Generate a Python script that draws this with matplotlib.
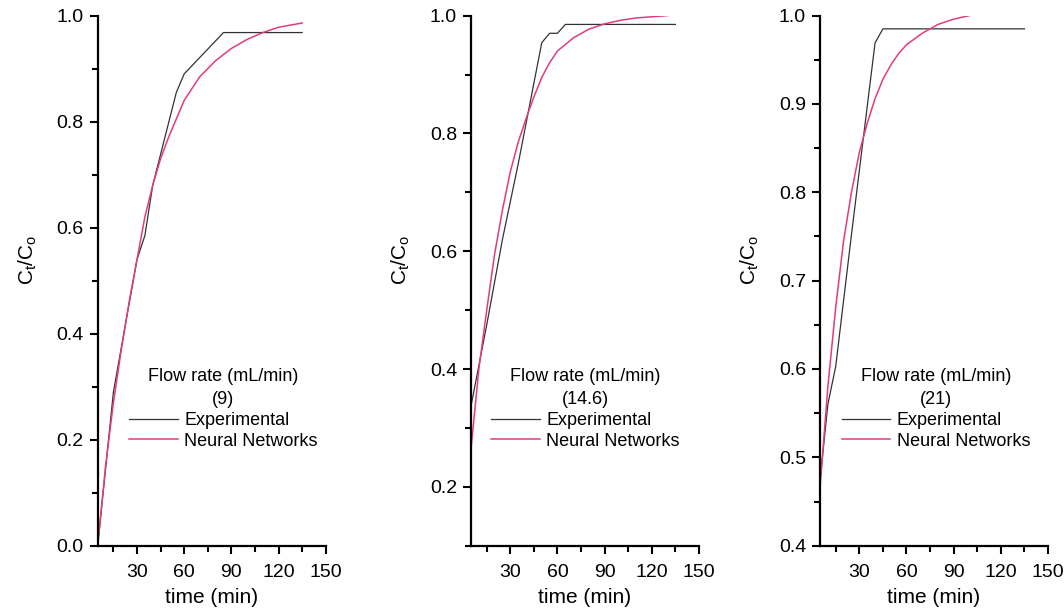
import matplotlib
matplotlib.use("Agg")
import matplotlib.pyplot as plt
from matplotlib.ticker import MultipleLocator, FormatStrFormatter

plt.rcParams['font.family'] = ['Liberation Sans', 'DejaVu Sans']
plt.rcParams['mathtext.default'] = 'regular'

# Flow rate 9 mL/min
t_exp_9 = [5, 15, 30, 35, 40, 55, 60, 85, 135]
c_exp_9 = [0.0, 0.29, 0.54, 0.585, 0.68, 0.855, 0.89, 0.968, 0.968]
t_nn_9 = [5, 10, 15, 20, 25, 30, 35, 40, 45, 50, 60, 70, 80, 90, 100, 110, 120, 135]
c_nn_9 = [0.0, 0.15, 0.27, 0.37, 0.46, 0.54, 0.62, 0.68, 0.73, 0.77, 0.84, 0.885,
          0.915, 0.938, 0.955, 0.968, 0.978, 0.986]

# Flow rate 14.6 mL/min
t_exp_14 = [5, 15, 25, 35, 50, 55, 60, 65, 135]
c_exp_14 = [0.337, 0.475, 0.62, 0.748, 0.954, 0.97, 0.97, 0.985, 0.985]
t_nn_14 = [5, 10, 15, 20, 25, 30, 35, 40, 45, 50, 55, 60, 70, 80, 90, 100, 110, 120, 130]
c_nn_14 = [0.264, 0.40, 0.50, 0.595, 0.67, 0.735, 0.785, 0.825, 0.862, 0.895, 0.92,
           0.94, 0.962, 0.977, 0.986, 0.992, 0.996, 0.998, 1.0]

# Flow rate 21 mL/min
t_exp_21 = [5, 10, 15, 25, 40, 45, 135]
c_exp_21 = [0.474, 0.56, 0.603, 0.752, 0.969, 0.985, 0.985]
t_nn_21 = [5, 10, 15, 20, 25, 30, 35, 40, 45, 50, 55, 60, 70, 80, 90, 100]
c_nn_21 = [0.465, 0.58, 0.67, 0.745, 0.80, 0.845, 0.878, 0.906, 0.928, 0.944, 0.957,
           0.967, 0.98, 0.99, 0.996, 1.0]

flow_labels = ['9', '14.6', '21']
y_limits = [(0.0, 1.0), (0.1, 1.0), (0.4, 1.0)]
y_major = [0.2, 0.2, 0.1]
y_minor = [0.1, 0.1, 0.05]

panels = [
    (t_exp_9, c_exp_9, t_nn_9, c_nn_9),
    (t_exp_14, c_exp_14, t_nn_14, c_nn_14),
    (t_exp_21, c_exp_21, t_nn_21, c_nn_21),
]

W, H = 1064, 609
fig = plt.figure(figsize=(W / 100, H / 100), dpi=100)

ax_left_px = [97.7, 471.0, 820.0]
ax_width_px = 228.0
ax_top_px, ax_bottom_px = 15.6, 545.7
legend_x = [0.122, 0.072, 0.079]

exp_color = '#333333'
nn_color = '#e23b82'

for i, (te, ce, tn, cn) in enumerate(panels):
    ax = fig.add_axes([ax_left_px[i] / W, (H - ax_bottom_px) / H,
                       ax_width_px / W, (ax_bottom_px - ax_top_px) / H])
    ax.plot(te, ce, color=exp_color, lw=0.9, label='Experimental')
    ax.plot(tn, cn, color=nn_color, lw=1.1, label='Neural Networks')

    ax.set_xlim(5, 150)
    ax.set_ylim(*y_limits[i])
    ax.xaxis.set_major_locator(MultipleLocator(30))
    ax.xaxis.set_minor_locator(MultipleLocator(15))
    ax.yaxis.set_major_locator(MultipleLocator(y_major[i]))
    ax.yaxis.set_minor_locator(MultipleLocator(y_minor[i]))
    ax.yaxis.set_major_formatter(FormatStrFormatter('%.1f'))

    for side in ('top', 'right'):
        ax.spines[side].set_visible(False)
    for side in ('left', 'bottom'):
        ax.spines[side].set_linewidth(1.6)

    ax.tick_params(which='major', direction='out', length=6, width=1.5,
                   labelsize=14, pad=4)
    ax.tick_params(axis='x', which='major', pad=7.5)
    ax.tick_params(which='minor', direction='out', length=4, width=1.5)

    ax.set_xlabel('time (min)', fontsize=15, labelpad=5)
    ax.set_ylabel('C$_t$/C$_o$', fontsize=15, labelpad=13)
    ax.yaxis.label.set_y(0.54)

    leg = ax.legend(title='Flow rate (mL/min)\n(%s)' % flow_labels[i],
                    loc='upper left', bbox_to_anchor=(legend_x[i], 0.342),
                    frameon=False, fontsize=13, title_fontsize=13,
                    handlelength=2.7, handletextpad=0.35, labelspacing=0.22,
                    borderpad=0.2, borderaxespad=0)
    leg.get_title().set_multialignment('center')
    leg.get_title().set_linespacing(1.45)

fig.savefig('out.png', dpi=100)
